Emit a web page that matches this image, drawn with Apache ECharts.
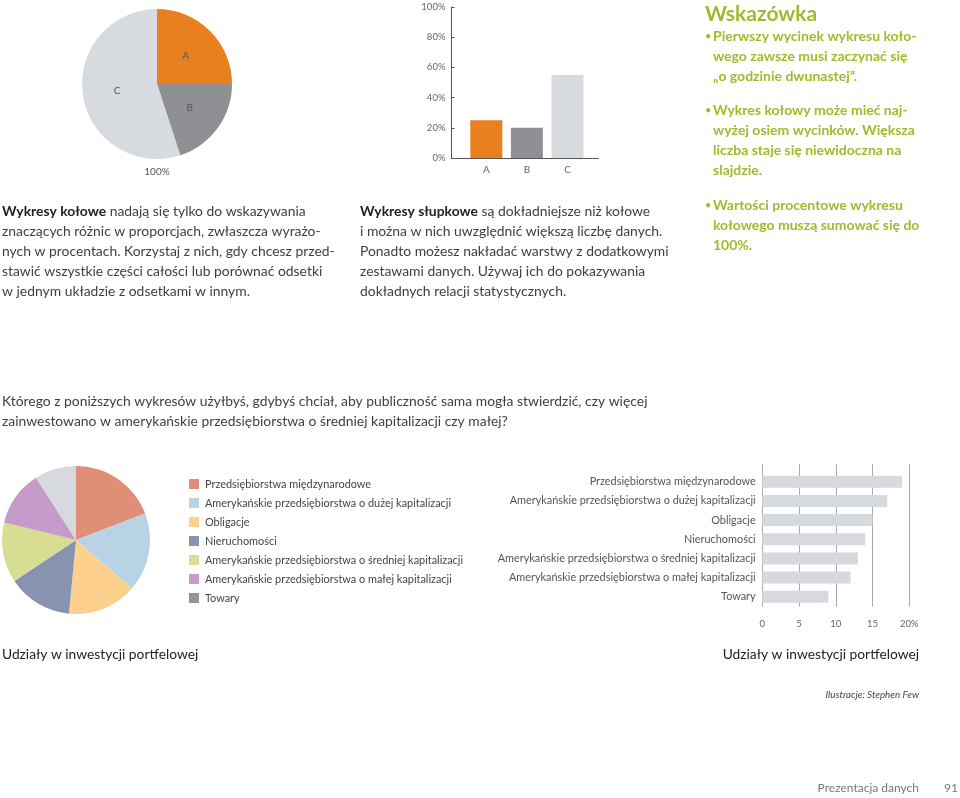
<!DOCTYPE html>
<html>
<head>
<meta charset="utf-8">
<script src="https://cdn.jsdelivr.net/npm/echarts@6/dist/echarts.min.js"></script>
<style>
html,body{margin:0;padding:0;background:#fff;}
#main{width:960px;height:798px;}
</style>
</head>
<body>
<div id="main"></div>
<script>
// ---- data ----
const topCats = ['A', 'B', 'C'];
const topValues = [25, 20, 55];
const topYTicks = [0, 20, 40, 60, 80, 100];

const portfolioCats = [
  'Przedsiębiorstwa międzynarodowe',
  'Amerykańskie przedsiębiorstwa o dużej kapitalizacji',
  'Obligacje',
  'Nieruchomości',
  'Amerykańskie przedsiębiorstwa o średniej kapitalizacji',
  'Amerykańskie przedsiębiorstwa o małej kapitalizacji',
  'Towary'
];
const portfolioValues = [19, 17, 15, 14, 13, 12, 9];
const portfolioTicks = [0, 5, 10, 15, 20];

// ---- styles ----
const FONT = 'Lato';
const topColors = ['#e8801f', '#8f9093', '#d7dbdf'];
const pieColors = ['#e08f76', '#b8d3e6', '#fdd08e', '#8893b0', '#d7dd93', '#c69bc9', '#d6d9de'];
const legendColors = ['#e08f76', '#b8d3e6', '#fdd08e', '#8893b0', '#d7dd93', '#c69bc9', '#939499'];
const GREEN = '#9dbc2c';
const TEXT = '#3f3f3f';

const chart = echarts.init(document.getElementById('main'), null, {renderer: 'canvas'});

function line(x, y, text, opts) {
  opts = opts || {};
  return {
    type: 'text', x: x, y: y, silent: true,
    style: {
      text: text,
      fill: opts.fill || TEXT,
      font: (opts.style || 'normal') + ' ' + (opts.weight || 'normal') + ' ' + (opts.size || 13.9) + 'px ' + FONT,
      textAlign: opts.align || 'left',
      textVerticalAlign: 'middle'
    }
  };
}
function richLine(x, y, boldPart, rest, size) {
  return {
    type: 'text', x: x, y: y, silent: true,
    style: {
      text: '{b|' + boldPart + '}{n|' + rest + '}',
      textVerticalAlign: 'middle',
      rich: {
        b: {fontFamily: FONT, fontWeight: 'bold', fontSize: size, fill: '#222', color: '#222'},
        n: {fontFamily: FONT, fontSize: size, fill: TEXT, color: TEXT}
      }
    }
  };
}

const P = 13.9;
const G = {size: 14, weight: 'bold', fill: GREEN};
const graphics = [
  line(157, 172, '100%', {size: 10, align: 'center', fill: '#555'}),
  richLine(2, 212, 'Wykresy kołowe', ' nadają się tylko do wskazywania', P),
  line(2, 232, 'znaczących różnic w proporcjach, zwłaszcza wyrażo-', {size: P}),
  line(2, 252, 'nych w procentach. Korzystaj z nich, gdy chcesz przed-', {size: P}),
  line(2, 272, 'stawić wszystkie części całości lub porównać odsetki', {size: P}),
  line(2, 292, 'w jednym układzie z odsetkami w innym.', {size: P}),
  richLine(360, 212, 'Wykresy słupkowe', ' są dokładniejsze niż kołowe', P),
  line(360, 232, 'i można w nich uwzględnić większą liczbę danych.', {size: P}),
  line(360, 252, 'Ponadto możesz nakładać warstwy z dodatkowymi', {size: P}),
  line(360, 272, 'zestawami danych. Używaj ich do pokazywania', {size: P}),
  line(360, 292, 'dokładnych relacji statystycznych.', {size: P}),

  line(705, 14, 'Wskazówka', {size: 21, weight: 'bold', fill: GREEN}),
  line(705, 36, '•', {size: 11, fill: GREEN}),
  line(713, 36, 'Pierwszy wycinek wykresu koło-', G),
  line(713, 56, 'wego zawsze musi zaczynać się', G),
  line(713, 76, '„o godzinie dwunastej”.', G),
  line(705, 110, '•', {size: 11, fill: GREEN}),
  line(713, 110, 'Wykres kołowy może mieć naj-', G),
  line(713, 130, 'wyżej osiem wycinków. Większa', G),
  line(713, 150, 'liczba staje się niewidoczna na', G),
  line(713, 170, 'slajdzie.', G),
  line(705, 205, '•', {size: 11, fill: GREEN}),
  line(713, 205, 'Wartości procentowe wykresu', G),
  line(713, 225, 'kołowego muszą sumować się do', G),
  line(713, 245, '100%.', G),

  line(2, 402, 'Którego z poniższych wykresów użyłbyś, gdybyś chciał, aby publiczność sama mogła stwierdzić, czy więcej', {size: P}),
  line(2, 422, 'zainwestowano w amerykańskie przedsiębiorstwa o średniej kapitalizacji czy małej?', {size: P}),

  line(2, 655, 'Udziały w inwestycji portfelowej', {size: 13.8, fill: '#222'}),
  line(919, 655, 'Udziały w inwestycji portfelowej', {size: 13.8, fill: '#222', align: 'right'}),
  line(919, 695, 'Ilustracje: Stephen Few', {size: 9.8, style: 'italic', fill: '#444', align: 'right'}),
  line(919, 788, 'Prezentacja danych', {size: 12, fill: '#777', align: 'right'}),
  line(958, 788, '91', {size: 12, fill: '#777', align: 'right'})
];

const option = {
  backgroundColor: '#ffffff',
  animation: false,
  textStyle: {fontFamily: FONT},
  legend: {
    orient: 'vertical',
    left: 189, top: 478,
    padding: 0,
    itemWidth: 10, itemHeight: 10, itemGap: 7,
    icon: 'rect',
    selectedMode: false,
    textStyle: {fontFamily: FONT, fontSize: 10.9, color: '#444', lineHeight: 12, padding: [0, 0, 0, 1]},
    data: portfolioCats.map((n, i) => ({name: n, itemStyle: {color: legendColors[i]}}))
  },
  grid: [
    {left: 451.5, top: 7, width: 147, height: 151},
    {left: 466, top: 7, width: 121.8, height: 151},
    {left: 762.3, top: 464.3, width: 147, height: 142.4},
    {left: 762.3, top: 472.1, width: 147, height: 134.3}
  ],
  xAxis: [
    {gridIndex: 0, type: 'value', min: 0, max: 1,
      axisLine: {show: true, lineStyle: {color: '#555', width: 1}},
      axisTick: {show: false}, axisLabel: {show: false}, splitLine: {show: false}},
    {gridIndex: 1, type: 'category', data: topCats,
      axisLine: {show: false}, axisTick: {show: false},
      axisLabel: {color: '#666', fontSize: 10, margin: 7, fontFamily: FONT}},
    {gridIndex: 2, type: 'value', min: portfolioTicks[0], max: portfolioTicks[portfolioTicks.length - 1], interval: 5,
      axisLine: {show: false}, axisTick: {show: false},
      axisLabel: {color: '#666', fontSize: 9.5, margin: 12, fontFamily: FONT,
        formatter: v => v === portfolioTicks[portfolioTicks.length - 1] ? v + '%' : String(v)},
      splitLine: {show: true, lineStyle: {color: '#a9a9a9', width: 1}}},
    {gridIndex: 3, type: 'value', min: portfolioTicks[0], max: portfolioTicks[portfolioTicks.length - 1], show: false}
  ],
  yAxis: [
    {gridIndex: 0, type: 'value', min: topYTicks[0], max: topYTicks[topYTicks.length - 1], interval: 20,
      axisLine: {show: true, lineStyle: {color: '#555', width: 1}},
      axisTick: {show: true, inside: true, length: 3, lineStyle: {color: '#555'}},
      axisLabel: {color: '#666', fontSize: 9.5, margin: 6, fontFamily: FONT, formatter: '{value}%'},
      splitLine: {show: false}},
    {gridIndex: 1, type: 'value', min: 0, max: 100, show: false},
    {gridIndex: 2, type: 'value', min: 0, max: 1, show: false},
    {gridIndex: 3, type: 'category', data: portfolioCats, inverse: true,
      axisLine: {show: false}, axisTick: {show: false},
      axisLabel: {color: '#555', fontSize: 10.9, margin: 6.6, fontFamily: FONT}}
  ],
  series: [
    {
      type: 'pie', center: [157, 84], radius: 75, startAngle: 90, clockwise: true,
      silent: true,
      label: {show: true, position: 'inside', color: '#555', fontSize: 10, fontFamily: FONT, formatter: '{b}'},
      labelLine: {show: false},
      data: topCats.map((c, i) => ({name: c, value: topValues[i], itemStyle: {color: topColors[i]}}))
    },
    {
      type: 'bar', xAxisIndex: 1, yAxisIndex: 1, barWidth: 32, silent: true,
      data: topValues.map((v, i) => ({value: v, itemStyle: {color: topColors[i]}}))
    },
    {
      type: 'pie', center: [76, 540], radius: 74, startAngle: 90, clockwise: true,
      silent: true,
      label: {show: false}, labelLine: {show: false},
      data: portfolioCats.map((c, i) => ({name: c, value: portfolioValues[i], itemStyle: {color: pieColors[i]}}))
    },
    {
      type: 'bar', xAxisIndex: 3, yAxisIndex: 3, barWidth: 12, silent: true,
      itemStyle: {color: '#d6d9dd'},
      data: portfolioValues
    }
  ],
  graphic: graphics
};
chart.setOption(option);
</script>
</body>
</html>
